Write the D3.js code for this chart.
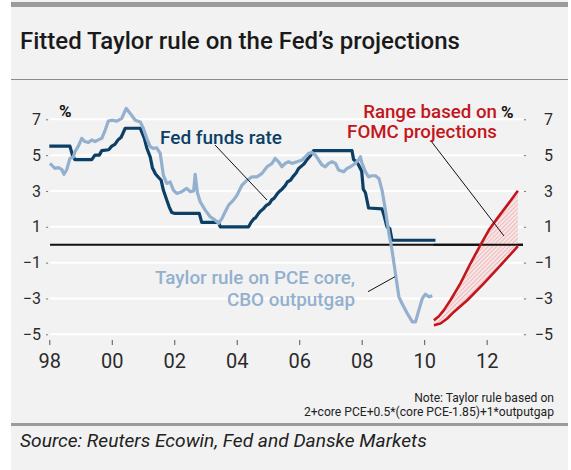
<!DOCTYPE html>
<html><head><meta charset="utf-8">
<script src="https://cdn.jsdelivr.net/npm/d3@7"></script>
<style>
body{margin:0;background:#fff;}
text{font-family:Roboto,"Liberation Sans",sans-serif;}
</style></head>
<body>
<svg id="c" width="571" height="470"></svg>
<script>
// ---------- data ----------
const yTicks = [-5,-3,-1,1,3,5,7];
const xTicks = [1998,2000,2002,2004,2006,2008,2010,2012];
const xTickLabels = ["98","00","02","04","06","08","10","12"];

const fedYears  = [1998.0,1998.66,1998.74,1998.82,1999.36,1999.46,1999.6,1999.68,1999.9,2000.0,2000.1,2000.2,2000.3,2000.43,2000.91,2001.04,2001.12,2001.23,2001.3,2001.4,2001.5,2001.58,2001.65,2001.76,2001.84,2001.92,2002.0,2002.8,2002.88,2003.42,2003.47,2004.38,2004.46,2004.55,2004.6,2004.7,2004.75,2004.85,2004.95,2005.05,2005.12,2005.2,2005.3,2005.38,2005.45,2005.55,2005.62,2005.72,2005.8,2005.9,2005.98,2006.08,2006.15,2006.25,2006.35,2006.46,2007.69,2007.74,2007.85,2007.9,2008.0,2008.05,2008.12,2008.22,2008.65,2008.72,2008.81,2008.9,2008.97,2010.36];
const fedValues = [5.5,5.5,5.0,4.75,4.75,5.0,5.0,5.25,5.3,5.5,5.6,5.85,6.0,6.5,6.5,5.95,5.4,4.9,4.3,3.95,3.75,3.6,3.05,2.5,2.1,1.8,1.75,1.75,1.25,1.25,1.0,1.0,1.25,1.45,1.5,1.75,1.85,2.0,2.2,2.3,2.5,2.6,2.85,3.0,3.1,3.3,3.5,3.6,3.8,4.0,4.25,4.4,4.5,4.75,4.95,5.25,5.25,4.75,4.6,4.45,4.1,3.1,2.9,2.05,2.0,1.6,1.0,0.9,0.25,0.25];

const taylorYears  = [1998.02,1998.18,1998.29,1998.4,1998.47,1998.56,1998.66,1998.77,1998.82,1998.93,1999.04,1999.14,1999.25,1999.36,1999.46,1999.57,1999.68,1999.79,1999.89,2000.0,2000.16,2000.32,2000.46,2000.59,2000.75,2000.91,2001.01,2001.12,2001.23,2001.33,2001.44,2001.55,2001.65,2001.76,2001.87,2001.97,2002.08,2002.24,2002.4,2002.51,2002.62,2002.67,2002.74,2002.83,2002.99,2003.15,2003.31,2003.42,2003.53,2003.63,2003.74,2003.9,2004.01,2004.17,2004.33,2004.49,2004.65,2004.81,2004.97,2005.13,2005.23,2005.34,2005.45,2005.55,2005.66,2005.77,2005.93,2006.09,2006.2,2006.3,2006.41,2006.52,2006.62,2006.73,2006.84,2006.94,2007.05,2007.16,2007.26,2007.42,2007.53,2007.64,2007.8,2007.9,2007.96,2008.01,2008.12,2008.22,2008.33,2008.44,2008.55,2008.65,2008.76,2008.87,2008.97,2009.08,2009.19,2009.29,2009.46,2009.62,2009.72,2009.83,2009.94,2010.04,2010.15,2010.26];
const taylorValues = [4.54,4.26,4.3,4.2,3.93,4.2,4.82,4.9,5.19,5.5,5.94,5.76,5.7,5.85,5.76,5.85,5.94,6.4,6.9,6.95,6.9,7.05,7.61,7.33,6.95,6.85,6.5,5.94,5.47,5.38,5.41,5.1,3.89,3.42,3.5,3.05,2.86,2.96,3.14,2.96,3.0,3.93,2.9,2.4,1.93,1.56,1.37,1.19,1.47,1.84,2.21,2.5,2.77,3.33,3.6,3.79,3.79,3.98,4.35,4.54,4.82,4.63,4.35,4.54,4.63,4.54,4.63,4.73,4.91,5.1,5.15,5.0,4.73,4.45,4.35,4.54,4.63,4.54,4.17,4.07,4.26,4.35,4.55,4.73,4.91,4.54,4.07,3.79,3.85,3.85,3.7,3.05,1.93,0.63,-0.3,-1.6,-2.91,-3.28,-3.84,-4.31,-4.31,-3.65,-3.0,-2.76,-2.91,-2.85];

const upperYears  = [2010.31,2010.47,2010.63,2010.84,2011.16,2011.48,2011.8,2012.07,2012.34,2012.66,2013.0];
const upperValues = [-4.21,-3.99,-3.65,-3.1,-2.16,-1.05,-0.02,0.82,1.47,2.21,3.01];
const lowerYears  = [2010.31,2010.52,2010.74,2010.95,2011.38,2011.91,2012.45,2013.0];
const lowerValues = [-4.49,-4.4,-4.12,-3.75,-3.1,-2.16,-1.14,-0.08];

// ---------- layout ----------
const svg = d3.select("#c");
const x = d3.scaleLinear().domain([1998, 2013]).range([49.3, 49.3 + 15*31.24]);
const y = d3.scaleLinear().domain([-5, 7]).range([334.3, 119.3]);
const plotL = 50, plotR = 523;

const C = {fed:"#0b3f66", taylor:"#93b0cf", red:"#c3161c", grid:"#ffffff", txt:"#2b2b2b"};

function fit(sel, w){
  const fs = parseFloat(sel.attr("font-size"));
  const L = sel.node().getComputedTextLength();
  sel.attr("font-size", (fs*w/L).toFixed(2));
  return fs*w/L;
}

// background panel
svg.append("rect").attr("x",11).attr("y",0).attr("width",557).attr("height",470).attr("fill","#f2f2f2");
svg.append("rect").attr("x",11).attr("y",2).attr("width",557).attr("height",5).attr("fill","#9b9b9b");
svg.append("line").attr("x1",11).attr("x2",568).attr("y1",79.5).attr("y2",79.5).attr("stroke","#8a8a8a").attr("stroke-width",1);
svg.append("rect").attr("x",11).attr("y",423).attr("width",557).attr("height",3).attr("fill","#9b9b9b");

// title
const title = svg.append("text").attr("x",20).attr("y",49).attr("font-size",21).attr("font-weight",500).attr("fill","#1a1a1a")
  .text("Fitted Taylor rule on the Fed\u2019s projections");
fit(title, 440);

// gridlines
svg.append("g").selectAll("line").data(yTicks).join("line")
  .attr("x1",plotL).attr("x2",plotR).attr("y1",d=>y(d)).attr("y2",d=>y(d))
  .attr("stroke",C.grid).attr("stroke-width",2);

// axes
const yl = svg.append("g").attr("transform","translate(48,0)")
  .call(d3.axisLeft(y).tickValues(yTicks).tickSize(2).tickPadding(5));
const yr = svg.append("g").attr("transform","translate(524,0)")
  .call(d3.axisRight(y).tickValues(yTicks).tickSize(2).tickPadding(27));
[yl,yr].forEach(g=>{
  g.select(".domain").remove();
  g.selectAll(".tick line").attr("stroke","#777");
  g.selectAll("text").attr("font-size",16).attr("fill",C.txt).attr("font-family","Roboto,'Liberation Sans',sans-serif");
});
yr.selectAll("text").attr("text-anchor","end");

const xa = svg.append("g").attr("transform","translate(0,340)")
  .call(d3.axisBottom(x).tickValues(xTicks).tickFormat((d,i)=>xTickLabels[i]).tickSize(5).tickPadding(9));
xa.select(".domain").remove();
xa.selectAll(".tick line").attr("stroke","#555");
xa.selectAll("text").attr("font-size",20).attr("fill",C.txt).attr("font-family","Roboto,'Liberation Sans',sans-serif");

// zero line
svg.append("line").attr("x1",plotL).attr("x2",plotR).attr("y1",y(0)).attr("y2",y(0)).attr("stroke","#111").attr("stroke-width",2);

// hatch pattern
const defs = svg.append("defs");
const pat = defs.append("pattern").attr("id","hatch").attr("patternUnits","userSpaceOnUse")
  .attr("width",3).attr("height",3).attr("patternTransform","rotate(45)");
pat.append("rect").attr("width",3).attr("height",3).attr("fill","#f7e6e6");
pat.append("line").attr("x1",0).attr("y1",0).attr("x2",0).attr("y2",3).attr("stroke","#e0676d").attr("stroke-width",0.7);

const upper = upperYears.map((d,i)=>[d,upperValues[i]]);
const lower = lowerYears.map((d,i)=>[d,lowerValues[i]]);
const line = d3.line().x(d=>x(d[0])).y(d=>y(d[1]));
svg.append("path").attr("d", line(upper.concat(lower.slice().reverse()))+"Z").attr("fill","url(#hatch)");

// zero line re-drawn over hatch
svg.append("line").attr("x1",x(2010.3)).attr("x2",plotR).attr("y1",y(0)).attr("y2",y(0)).attr("stroke","#111").attr("stroke-width",2);

svg.append("path").attr("d",line(upper)).attr("fill","none").attr("stroke",C.red).attr("stroke-width",2.6).attr("stroke-linejoin","round");
svg.append("path").attr("d",line(lower)).attr("fill","none").attr("stroke",C.red).attr("stroke-width",2.6).attr("stroke-linejoin","round");

// series
const fed = fedYears.map((d,i)=>[d,fedValues[i]]);
const tay = taylorYears.map((d,i)=>[d,taylorValues[i]]);
svg.append("path").attr("d",line(fed)).attr("fill","none").attr("stroke",C.fed).attr("stroke-width",3.2).attr("stroke-linejoin","round");
svg.append("path").attr("d",line(tay)).attr("fill","none").attr("stroke",C.taylor).attr("stroke-width",3.2).attr("stroke-linejoin","round");

// leader lines
const leaders = [[215,145,267,200],[368,291.7,395,276.7],[431,141,504,236]];
svg.append("g").selectAll("line").data(leaders).join("line")
  .attr("x1",d=>d[0]).attr("y1",d=>d[1]).attr("x2",d=>d[2]).attr("y2",d=>d[3])
  .attr("stroke","#111").attr("stroke-width",1);

// annotations
const fedT = svg.append("text").attr("x",160).attr("y",144).attr("font-size",17).attr("font-weight",500).attr("fill",C.fed).text("Fed funds rate");
fit(fedT,122);
const t1 = svg.append("text").attr("x",355).attr("y",284).attr("text-anchor","end").attr("font-size",17).attr("font-weight",500).attr("fill",C.taylor).text("Taylor rule on PCE core,");
const fsT = fit(t1,200);
svg.append("text").attr("x",355).attr("y",306).attr("text-anchor","end").attr("font-size",fsT).attr("font-weight",500).attr("fill",C.taylor).text("CBO outputgap");
const r1 = svg.append("text").attr("x",497).attr("y",118).attr("text-anchor","end").attr("font-size",17).attr("font-weight",500).attr("fill",C.red).text("Range based on");
const fsR = fit(r1,134);
svg.append("text").attr("x",497).attr("y",138).attr("text-anchor","end").attr("font-size",fsR).attr("font-weight",500).attr("fill",C.red).text("FOMC projections");
svg.append("text").attr("x",501).attr("y",118).attr("font-size",17).attr("font-weight",700).attr("fill","#111").text("%");
svg.append("text").attr("x",59).attr("y",117).attr("font-size",17).attr("font-weight",700).attr("fill","#111").text("%");

// note + source
const n1 = svg.append("text").attr("x",554).attr("y",402).attr("text-anchor","end").attr("font-size",11.5).attr("fill","#222").text("Note: Taylor rule based on");
const n2 = svg.append("text").attr("x",554).attr("y",416).attr("text-anchor","end").attr("font-size",11.5).attr("fill","#222").text("2+core PCE+0.5*(core PCE-1.85)+1*outputgap");
const fsN = fit(n2,250); n1.attr("font-size",fsN);
const src = svg.append("text").attr("x",20).attr("y",447).attr("font-size",17).attr("font-style","italic").attr("fill","#222").text("Source: Reuters Ecowin, Fed and Danske Markets");
fit(src,407);
</script>
</body></html>
